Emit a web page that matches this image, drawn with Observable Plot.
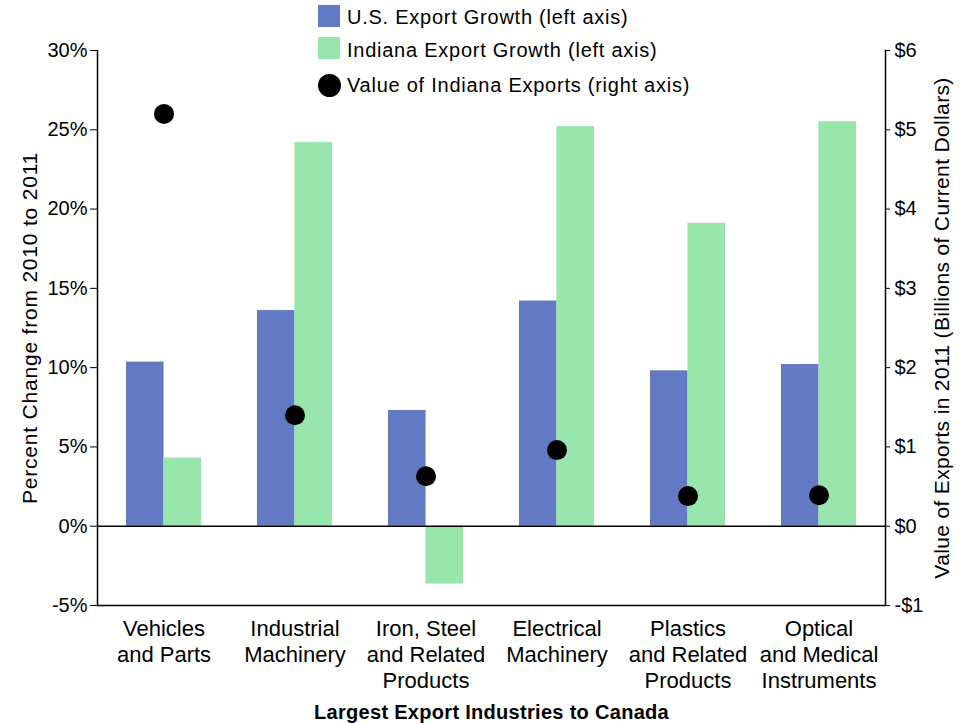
<!DOCTYPE html>
<html><head><meta charset="utf-8">
<script src="https://cdn.jsdelivr.net/npm/d3@7"></script>
<script src="https://cdn.jsdelivr.net/npm/@observablehq/plot@0.6"></script>
<style>
body{margin:0;background:#fff;}
#wrap{position:relative;width:973px;height:723px;font-family:"Liberation Sans",Arial,sans-serif;color:#000;}
#wrap svg{position:absolute;left:0;top:0;}
.legtxt{position:absolute;font-size:20px;letter-spacing:0.75px;line-height:22px;white-space:nowrap;}
.sw{position:absolute;}
.xtitle text{letter-spacing:0.3px;}
</style></head><body><div id="wrap"></div>
<script>
const categories = ["Vehicles\nand Parts","Industrial\nMachinery","Iron, Steel\nand Related\nProducts","Electrical\nMachinery","Plastics\nand Related\nProducts","Optical\nand Medical\nInstruments"];
const usGrowth = [10.35, 13.6, 7.3, 14.2, 9.8, 10.2];
const indianaGrowth = [4.3, 24.2, -3.65, 25.2, 19.1, 25.5];
const indianaValue = [5.2, 1.4, 0.63, 0.96, 0.38, 0.39];
const leftTicks = [-5, 0, 5, 10, 15, 20, 25, 30];
const rightTicks = [-1, 0, 1, 2, 3, 4, 5, 6];
const seriesNames = ["U.S. Export Growth (left axis)","Indiana Export Growth (left axis)","Value of Indiana Exports (right axis)"];
const colors = ["#6479c4","#98e6ac","#000000"];
const xTitle = "Largest Export Industries to Canada";
const yLeftTitle = "Percent Change from 2010 to 2011";
const yRightTitle = "Value of Exports in 2011 (Billions of Current Dollars)";

const data = categories.map((c,i)=>({category:c, us:usGrowth[i], indiana:indianaGrowth[i], value:indianaValue[i]}));

const W=973,H=723,mL=97,mR=88,mT=50,mB=118;
const padIn=0.43,padOut=0.215;
const step=(W-mL-mR)/(categories.length-padIn+2*padOut);
const half=step*(1-padIn)/2;
const ratio=5; // 5 percentage points on the left axis per $1B on the right axis
const fmtDollar = v => { const d=Math.round(v/ratio); return (d<0?"-$":"$")+Math.abs(d); };

const chart = Plot.plot({
  width:W,height:H,marginLeft:mL,marginRight:mR,marginTop:mT,marginBottom:mB,
  style:{fontFamily:'"Liberation Sans",Arial,sans-serif',fontSize:"20px",color:"#000",background:"transparent"},
  x:{domain:categories,paddingInner:padIn,paddingOuter:padOut},
  y:{domain:[-5,30]},
  marks:[
    Plot.barY(data,{x:"category",y:"us",fill:colors[0],insetRight:half}),
    Plot.barY(data,{x:"category",y:"indiana",fill:colors[1],insetLeft:half}),
    Plot.ruleY([0],{stroke:"#000",strokeWidth:1.5}),
    Plot.ruleY([-5],{stroke:"#000",strokeWidth:1.5}),
    Plot.frame({anchor:"left",stroke:"#000",strokeWidth:1.5}),
    Plot.frame({anchor:"right",stroke:"#000",strokeWidth:1.5}),
    Plot.dot(data,{x:"category",y:d=>d.value*ratio,r:10,fill:colors[2],stroke:null}),
    Plot.axisY({anchor:"left",ticks:leftTicks,tickFormat:d=>d+"%",tickSize:7,tickPadding:3,fontSize:20,
      label:yLeftTitle,labelAnchor:"center",labelOffset:75,labelArrow:"none"}),
    Plot.axisY({anchor:"right",ticks:rightTicks.map(v=>v*ratio),tickFormat:fmtDollar,tickSize:4,tickPadding:5,fontSize:20,
      label:yRightTitle,labelAnchor:"center",labelOffset:63,labelArrow:"none"}),
    Plot.axisX({tickSize:0,tickPadding:12,fontSize:22,lineHeight:26/22,label:null}),
    Plot.text([xTitle],{frameAnchor:"bottom",dy:107,lineAnchor:"middle",fontWeight:"bold",fontSize:20,className:"xtitle"})
  ]
});
const wrap=document.getElementById("wrap");
wrap.appendChild(chart);

// widen the rotated axis titles a little to match the reference typeface
const labs=chart.querySelectorAll('g[aria-label="y-axis label"]');
if(labs[0]) labs[0].setAttribute("style","font-size:21px;letter-spacing:0.8px");
if(labs[1]) labs[1].setAttribute("style","font-size:21px;letter-spacing:0.35px");

// legend overlay (HTML)
const legRows=[{top:5,cy:17},{top:37,cy:50},{top:73,cy:85}];
seriesNames.forEach((name,i)=>{
  const sw=document.createElement("div");
  sw.className="sw";
  sw.style.left="318px";
  sw.style.width="22px";sw.style.height="22px";sw.style.background=colors[i];
  if(i<2){sw.style.top=legRows[i].top+"px";}
  else{sw.style.top=(legRows[i].cy-11)+"px";sw.style.borderRadius="50%";sw.style.width="23px";sw.style.height="23px";}
  wrap.appendChild(sw);
  const t=document.createElement("div");
  t.className="legtxt";
  t.style.left="347px";
  t.style.top=(legRows[i].cy-11)+"px";
  t.textContent=name;
  wrap.appendChild(t);
});
</script></body></html>
